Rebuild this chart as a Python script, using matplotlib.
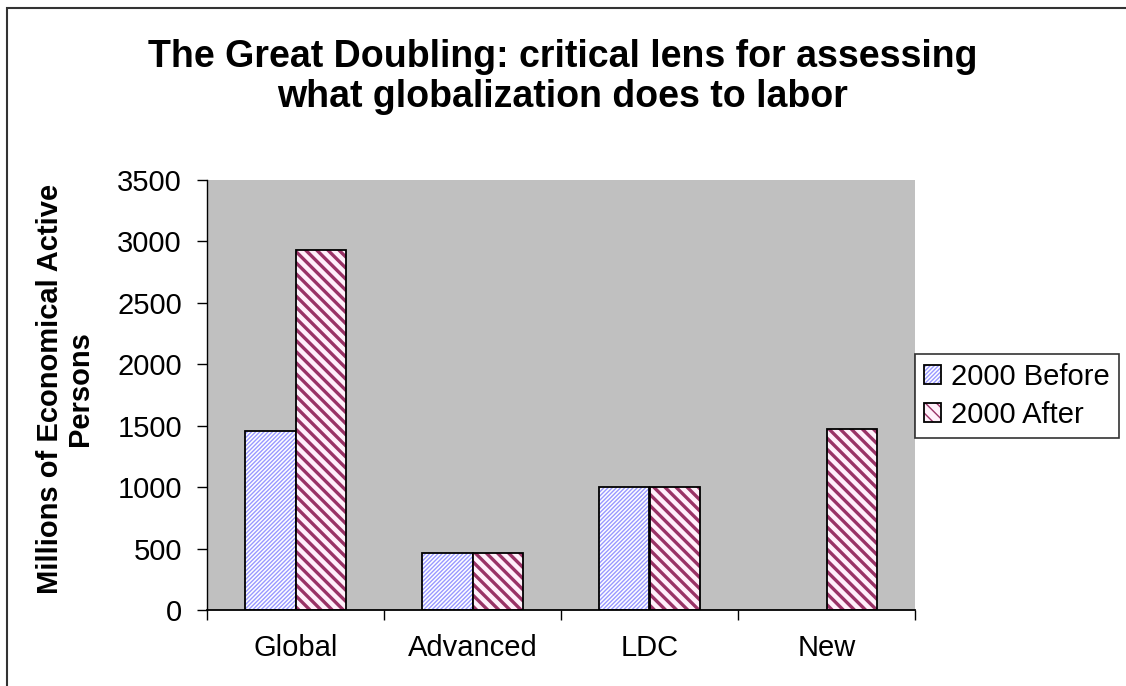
import numpy as np
import matplotlib
matplotlib.use('Agg')
import matplotlib.pyplot as plt
from matplotlib.patches import Rectangle

##### Data
categories = ['Global', 'Advanced', 'LDC', 'New']
before_vals = [1460, 460, 1000, np.nan]   # no "before" bar for New
after_vals = [2930, 460, 1000, 1470]
series_names = ['2000 Before', '2000 After']
y_ticks = [0, 500, 1000, 1500, 2000, 2500, 3000, 3500]

##### Style
plt.rcParams['font.family'] = ['Liberation Sans', 'DejaVu Sans']
FS = 21
before_hatch = '#9999ff'
after_hatch = '#993366'

fig = plt.figure(figsize=(11.26, 6.86), dpi=100)
ax = fig.add_axes([207 / 1126, 1 - 610 / 686, 708 / 1126, 430 / 686])
ax.set_facecolor('#c0c0c0')

x = np.arange(len(categories))
width = 0.285

b1 = ax.bar(x - width / 2, before_vals, width, color='white', edgecolor='black',
            linewidth=1.3, hatch='////////', label=series_names[0])
b2 = ax.bar(x + width / 2, after_vals, width, color='#fff0fa', edgecolor='black',
            linewidth=1.3, hatch='\\\\\\', label=series_names[1])
for p in b1:
    p._hatch_color = matplotlib.colors.to_rgba(before_hatch)
    if hasattr(p, 'set_hatch_linewidth'):
        p.set_hatch_linewidth(1.0)
for p in b2:
    p._hatch_color = matplotlib.colors.to_rgba(after_hatch)
    if hasattr(p, 'set_hatch_linewidth'):
        p.set_hatch_linewidth(2.4)

ax.set_xlim(-0.5, len(categories) - 0.5)
ax.set_ylim(0, 3500)
ax.set_yticks(y_ticks)
ax.set_yticklabels([str(v) for v in y_ticks], fontsize=FS)
ax.set_xticks(x)
ax.set_xticklabels(categories, fontsize=FS)
ax.set_xticks(np.arange(-0.5, len(categories)), minor=True)
ax.tick_params(axis='x', which='major', length=0, pad=17)
ax.tick_params(axis='x', which='minor', length=7, width=1)
ax.tick_params(axis='y', length=7, width=1, pad=11)

for side in ['top', 'right']:
    ax.spines[side].set_visible(False)
ax.spines['left'].set_linewidth(1)
ax.spines['bottom'].set_linewidth(1.3)

fig.text(65 / 1126, 1 - 389 / 686, 'Millions of Economical Active\nPersons',
         rotation=90, ha='center', va='center', multialignment='center',
         fontsize=FS, fontweight='bold', linespacing=1.1)

fig.text(563 / 1126, 1 - 77 / 686,
         'The Great Doubling: critical lens for assessing\nwhat globalization does to labor',
         ha='center', va='center', fontsize=27, fontweight='bold', linespacing=1.15)

leg = fig.legend(handles=[b1, b2], loc='upper left',
                 bbox_to_anchor=(915 / 1126, 1 - 354 / 686), fontsize=21,
                 frameon=True, fancybox=False, edgecolor='black',
                 handlelength=0.6, handleheight=0.6, handletextpad=0.35,
                 borderpad=0.3, labelspacing=0.35, borderaxespad=0.0)
leg.get_frame().set_linewidth(1.2)
for h, c in zip(leg.legend_handles, [before_hatch, after_hatch]):
    h._hatch_color = matplotlib.colors.to_rgba(c)

# outer chart border (right and bottom edges fall outside the picture)
fig.patches.append(Rectangle((7 / 1126, -0.01), 1.05, 1 - 8 / 686 + 0.01,
                             transform=fig.transFigure, fill=False,
                             edgecolor='#333333', linewidth=1.5))

fig.savefig('out.png', dpi=100)
